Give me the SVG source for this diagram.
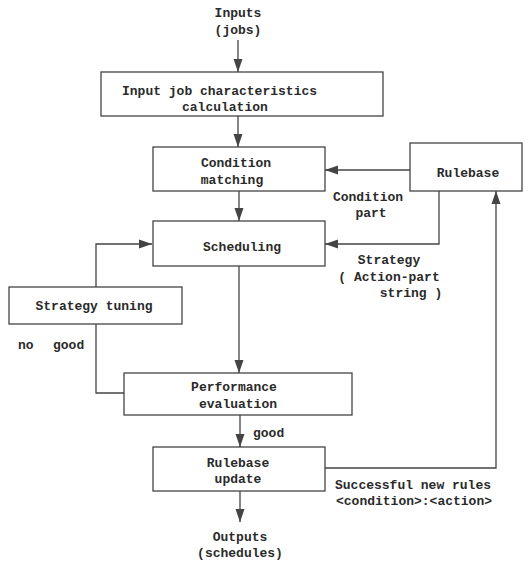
<svg xmlns="http://www.w3.org/2000/svg" width="529" height="563" viewBox="0 0 529 563">
<defs>
<style>
.box{fill:#fff;stroke:#444;stroke-width:1.3}
.ln{fill:none;stroke:#444;stroke-width:1.3}
text{font-family:"Liberation Mono","Courier New",monospace;font-size:13px;fill:#2a2a2a;font-weight:bold}
.c{text-anchor:middle}
</style>
<marker id="ah" markerUnits="userSpaceOnUse" markerWidth="14" markerHeight="10" refX="13" refY="5" orient="auto">
<path d="M0,0.5 L13,5 L0,9.5 Z" fill="#444"/>
</marker>
</defs>
<rect width="529" height="563" fill="#fff"/>
<g id="connectors">
<path class="ln" d="M238,40 V72" marker-end="url(#ah)"/>
<path class="ln" d="M238,116 V147" marker-end="url(#ah)"/>
<path class="ln" d="M239,191 V221" marker-end="url(#ah)"/>
<path class="ln" d="M410,170 H325" marker-end="url(#ah)"/>
<path class="ln" d="M439,191 V244 H325" marker-end="url(#ah)"/>
<path class="ln" d="M96,287 V244 H152" marker-end="url(#ah)"/>
<path class="ln" d="M239,266 V373" marker-end="url(#ah)"/>
<path class="ln" d="M96,324 V393 H124"/>
<path class="ln" d="M240,415 V447" marker-end="url(#ah)"/>
<path class="ln" d="M325,468 H496 V191" marker-end="url(#ah)"/>
<path class="ln" d="M240,491 V522" marker-end="url(#ah)"/>
</g>
<g id="inputs">
<text class="c" x="238" y="17">Inputs</text>
<text class="c" x="238" y="34">(jobs)</text>
</g>
<g id="calc">
<rect class="box" x="101" y="72" width="282" height="44"/>
<text x="122" y="95">Input job characteristics</text>
<text x="182" y="111">calculation</text>
</g>
<g id="condmatch">
<rect class="box" x="153" y="147" width="172" height="44"/>
<text class="c" x="236" y="167">Condition</text>
<text class="c" x="232" y="184">matching</text>
</g>
<g id="rulebase">
<rect class="box" x="410" y="143" width="112" height="48"/>
<text class="c" x="468" y="177">Rulebase</text>
</g>
<g id="scheduling">
<rect class="box" x="153" y="221" width="172" height="45"/>
<text class="c" x="242" y="251">Scheduling</text>
</g>
<g id="tuning">
<rect class="box" x="9" y="287" width="173" height="37"/>
<text class="c" x="94" y="310">Strategy tuning</text>
</g>
<g id="perfeval">
<rect class="box" x="124" y="373" width="228" height="42"/>
<text class="c" x="234" y="391">Performance</text>
<text class="c" x="238" y="408">evaluation</text>
</g>
<g id="rbupdate">
<rect class="box" x="153" y="447" width="172" height="44"/>
<text class="c" x="238" y="467">Rulebase</text>
<text class="c" x="238" y="483">update</text>
</g>
<g id="labels">
<text class="c" x="368" y="201">Condition</text>
<text class="c" x="371" y="217">part</text>
<text class="c" x="389" y="264">Strategy</text>
<text class="c" x="389" y="281">( Action-part</text>
<text class="c" x="411" y="297">string )</text>
<text x="18" y="349">no</text>
<text x="53" y="349">good</text>
<text x="253" y="437">good</text>
<text x="335" y="489">Successful new rules</text>
<text x="336" y="505">&lt;condition&gt;:&lt;action&gt;</text>
</g>
<g id="outputs">
<text class="c" x="240" y="541">Outputs</text>
<text class="c" x="240" y="557">(schedules)</text>
</g>
</svg>
